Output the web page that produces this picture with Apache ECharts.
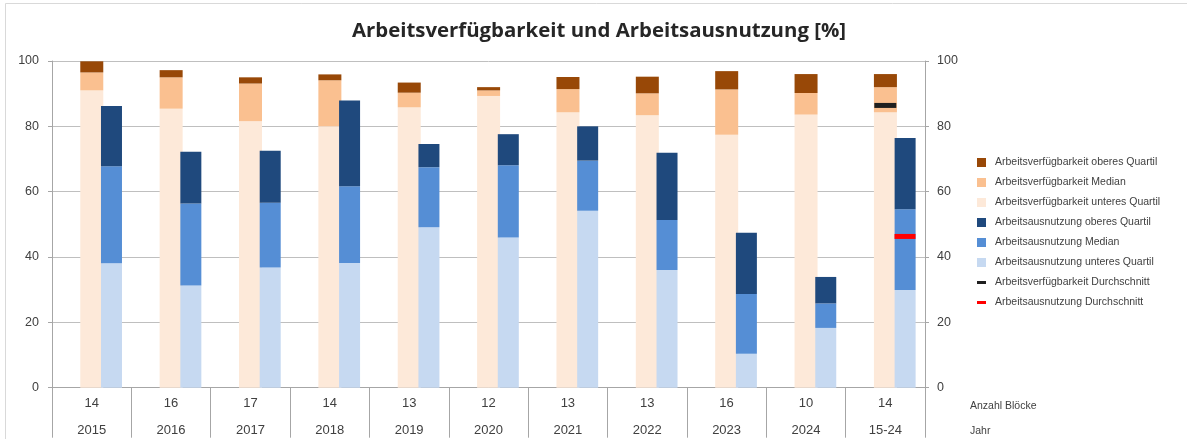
<!DOCTYPE html>
<html>
<head>
<meta charset="utf-8">
<script src="https://cdn.jsdelivr.net/npm/echarts@6/dist/echarts.min.js"></script>
<style>
  html, body { margin: 0; padding: 0; background: #fff; }
  #chart { width: 1187px; height: 439px; }
</style>
</head>
<body>
<div id="chart"></div>
<script>
// Jahre und Anzahl Blöcke (zweizeilige Achsbeschriftung)
var years = ['2015', '2016', '2017', '2018', '2019', '2020', '2021', '2022', '2023', '2024', '15-24']
var blockCounts = [14, 16, 17, 14, 13, 12, 13, 13, 16, 10, 14]

// Arbeitsverfügbarkeit [%]
var availQ1 = [91.0, 85.4, 81.6, 80.0, 85.8, 89.3, 84.3, 83.4, 77.4, 83.6, 84.3]
var availMed = [96.5, 95.0, 93.1, 94.1, 90.3, 91.0, 91.4, 90.1, 91.3, 90.2, 92.0]
var availQ3 = [99.9, 97.2, 95.0, 95.9, 93.4, 92.0, 95.1, 95.2, 96.9, 96.0, 96.0]

// Arbeitsausnutzung [%]
var utilQ1 = [38.1, 31.3, 36.8, 38.2, 49.1, 46.0, 54.2, 36.0, 10.4, 18.3, 29.9]
var utilMed = [67.8, 56.4, 56.6, 61.7, 67.5, 68.1, 69.5, 51.3, 28.7, 25.8, 54.6]
var utilQ3 = [86.2, 72.2, 72.5, 87.9, 74.6, 77.6, 80.0, 71.9, 47.4, 33.9, 76.4]

// Durchschnitt (nur 15-24)
var availAvg = [null, null, null, null, null, null, null, null, null, null, 86.4]
var utilAvg = [null, null, null, null, null, null, null, null, null, null, 46.3]

var yTicks = { min: 0, max: 100, interval: 20 }

// Segmenthöhen für die Stapel
function diff(upper, lower) {
  return upper.map(function (v, i) { return +(v - lower[i]).toFixed(2) })
}

var NAMES = {
  vQ3: 'Arbeitsverfügbarkeit oberes Quartil',
  vMed: 'Arbeitsverfügbarkeit Median',
  vQ1: 'Arbeitsverfügbarkeit unteres Quartil',
  uQ3: 'Arbeitsausnutzung oberes Quartil',
  uMed: 'Arbeitsausnutzung Median',
  uQ1: 'Arbeitsausnutzung unteres Quartil',
  vAvg: 'Arbeitsverfügbarkeit Durchschnitt',
  uAvg: 'Arbeitsausnutzung Durchschnitt'
}

var SQUARE = 'path://M0,0h9v9h-9zM13,9'
var DASH = 'path://M0,0M0,3h9v3h-9zM13,9'

var chart = echarts.init(document.getElementById('chart'))

function bar(name, data, stack, color, width) {
  return {
    name: name,
    type: 'bar',
    stack: stack,
    data: data,
    barWidth: width,
    barGap: '-10%',
    itemStyle: { color: color },
    emphasis: { disabled: true }
  }
}

chart.setOption({
  animation: false,
  backgroundColor: '#fff',
  textStyle: { fontFamily: '"Liberation Sans", Arial, sans-serif' },
  title: [{
    text: 'Arbeitsverfügbarkeit und Arbeitsausnutzung [%]',
    left: 594,
    top: 16,
    textAlign: 'center',
    textStyle: { fontFamily: '"Open Sans", sans-serif', fontWeight: 'bold', fontSize: 20.4, color: '#262626' }
  }, {
    text: 'Anzahl Blöcke',
    left: 965,
    top: 396,
    textStyle: { fontSize: 10.5, fontWeight: 'normal', color: '#404040' }
  }, {
    text: 'Jahr',
    left: 965,
    top: 421,
    textStyle: { fontSize: 10.5, fontWeight: 'normal', color: '#404040' }
  }],
  graphic: [{
    type: 'rect',
    shape: { x: 5.5, y: 3.5, width: 1300, height: 600 },
    style: { fill: 'none', stroke: '#D9D9D9', lineWidth: 1 },
    silent: true
  }],
  legend: {
    orient: 'vertical',
    left: 972,
    top: 152,
    itemWidth: 13,
    itemHeight: 9,
    itemGap: 9,
    selectedMode: false,
    textStyle: { fontSize: 10.5, color: '#404040' },
    data: [
      { name: NAMES.vQ3, icon: SQUARE },
      { name: NAMES.vMed, icon: SQUARE },
      { name: NAMES.vQ1, icon: SQUARE },
      { name: NAMES.uQ3, icon: SQUARE },
      { name: NAMES.uMed, icon: SQUARE },
      { name: NAMES.uQ1, icon: SQUARE },
      { name: NAMES.vAvg, icon: DASH },
      { name: NAMES.uAvg, icon: DASH }
    ]
  },
  grid: { left: 52, right: 262, top: 61, bottom: 51.3, containLabel: false },
  xAxis: {
    type: 'category',
    data: years,
    axisLine: { lineStyle: { color: '#A6A6A6' } },
    axisTick: { show: true, interval: 0, length: 50, lineStyle: { color: '#A6A6A6' } },
    axisLabel: {
      interval: 0,
      margin: 2,
      formatter: function (value, index) {
        return '{n|' + blockCounts[index] + '}\n{y|' + value + '}'
      },
      rich: {
        n: { fontSize: 13, lineHeight: 27, color: '#404040' },
        y: { fontSize: 13, lineHeight: 27, color: '#404040' }
      }
    }
  },
  yAxis: [{
    type: 'value',
    min: yTicks.min,
    max: yTicks.max,
    interval: yTicks.interval,
    axisLine: { show: true, lineStyle: { color: '#A6A6A6' } },
    axisTick: { show: true, length: 4, lineStyle: { color: '#A6A6A6' } },
    axisLabel: { margin: 13, fontSize: 12.5, color: '#404040' },
    splitLine: { lineStyle: { color: '#BFBFBF' } }
  }, {
    type: 'value',
    position: 'right',
    min: yTicks.min,
    max: yTicks.max,
    interval: yTicks.interval,
    axisLine: { show: true, lineStyle: { color: '#A6A6A6' } },
    axisTick: { show: true, length: 4, lineStyle: { color: '#A6A6A6' } },
    axisLabel: { margin: 12, fontSize: 12.5, color: '#404040' },
    splitLine: { show: false }
  }],
  series: [
    // leerer Platzhalter-Stapel, damit die Verfügbarkeit mittig sitzt
    { name: 'spacer', type: 'bar', stack: 'spacer', barWidth: 21, barGap: '-10%', data: years.map(function () { return null }), silent: true },
    bar(NAMES.vQ1, availQ1, 'verf', '#FDE9D9', 23),
    bar(NAMES.vMed, diff(availMed, availQ1), 'verf', '#FAC090', 23),
    bar(NAMES.vQ3, diff(availQ3, availMed), 'verf', '#984807', 23),
    bar(NAMES.uQ1, utilQ1, 'ausn', '#C6D9F1', 21),
    bar(NAMES.uMed, diff(utilMed, utilQ1), 'ausn', '#558ED5', 21),
    bar(NAMES.uQ3, diff(utilQ3, utilMed), 'ausn', '#1F497D', 21),
    {
      name: NAMES.vAvg,
      type: 'scatter',
      data: availAvg,
      symbol: 'rect',
      symbolSize: [22, 5],
      itemStyle: { color: '#1F1F1F', opacity: 1 },
      z: 5
    },
    {
      name: NAMES.uAvg,
      type: 'scatter',
      data: utilAvg,
      symbol: 'rect',
      symbolSize: [21, 5],
      symbolOffset: [19.7, 0],
      itemStyle: { color: '#FF0000', opacity: 1 },
      z: 5
    }
  ]
})
</script>
</body>
</html>
